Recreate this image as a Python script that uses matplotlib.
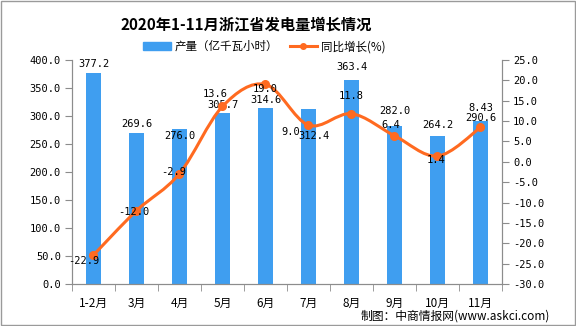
import numpy as np
import matplotlib
matplotlib.use("Agg")
import matplotlib.pyplot as plt
from matplotlib.path import Path
from matplotlib.patches import PathPatch, Rectangle
from matplotlib.lines import Line2D

plt.rcParams['font.family'] = ['Noto Sans CJK SC', 'DejaVu Sans']
NUM_FONT = ['DejaVu Sans Mono', 'Noto Sans CJK SC']

# ── Data ──────────────────────────────────────────────────────────────────────
months = ["1-2月", "3月", "4月", "5月", "6月", "7月", "8月", "9月", "10月", "11月"]
output = [377.2, 269.6, 276.0, 305.7, 314.6, 312.4, 363.4, 282.0, 264.2, 290.6]
growth = [-22.9, -12.0, -2.9, 13.6, 19.0, 9.0, 11.8, 6.4, 1.4, 8.43]
growth_text = ["-22.9", "-12.0", "-2.9", "13.6", "19.0", "9.0", "11.8", "6.4", "1.4", "8.43"]

BAR_C = "#3F9EF0"
LINE_C = "#FF6A20"
AX_C = "#8C8C8C"

# label offsets in points (dx, dy)
bar_off = [(0, 3), (0, 3), (0, -8), (0, 2), (0, 2), (4, -23), (0, 6), (0, 7), (0, 4), (0, -1)]
line_off = [(-7, -4), (-2, -1), (-4, 1), (-5, 9), (0, -3), (-13, -5), (0, 13), (-3, 8), (-1, -3), (0, 14)]

fig = plt.figure(figsize=(5.76, 3.26), dpi=100)
fig.patch.set_facecolor("white")
fig.add_artist(Rectangle((0.002, 0.003), 0.996, 0.994, transform=fig.transFigure,
                         fill=False, edgecolor="#9A9A9A", linewidth=1.0))

ax = fig.add_axes([0.125, 0.129, 0.7465, 0.687])
ax2 = ax.twinx()
x = np.arange(len(months))

ax.bar(x, output, width=0.37, color=BAR_C, zorder=2)
ax.set_xlim(-0.5, len(months) - 0.5)
ax.set_ylim(0, 400)
ax.set_yticks(np.arange(0, 401, 50))
ax.set_yticklabels([f"{v:.1f}" for v in np.arange(0, 401, 50)], family=NUM_FONT)
ax2.set_ylim(-30, 25)
ax2.set_yticks(np.arange(-30, 26, 5))
ax2.set_yticklabels([f"{v:.1f}" for v in np.arange(-30, 26, 5)], family=NUM_FONT)

ax.set_xticks(x)
ax.set_xticklabels(months)
ax.set_xticks(np.arange(-0.5, len(months), 1), minor=True)
ax.tick_params(axis="x", which="major", length=0, pad=9, labelsize=8.5)
ax.tick_params(axis="x", which="minor", length=5, color=AX_C, direction="out")
ax.tick_params(axis="y", length=5, color=AX_C, labelsize=7.5, pad=3)
ax2.tick_params(axis="y", length=5, color=AX_C, labelsize=7.5, pad=3)

for a in (ax, ax2):
    a.spines["top"].set_visible(False)
    for s in ("left", "right", "bottom"):
        a.spines[s].set_color(AX_C)
ax.set_zorder(1)
ax2.set_zorder(2)
ax2.patch.set_visible(False)

# smoothed line (Catmull-Rom drawn as cubic Bezier segments)
pts = np.column_stack([x, growth]).astype(float)
ext = np.vstack([pts[0], pts, pts[-1]])
verts = [tuple(pts[0])]
codes = [Path.MOVETO]
for i in range(1, len(ext) - 2):
    p0, p1, p2, p3 = ext[i - 1], ext[i], ext[i + 1], ext[i + 2]
    c1 = p1 + (p2 - p0) / 6
    c2 = p2 - (p3 - p1) / 6
    verts += [tuple(c1), tuple(c2), tuple(p2)]
    codes += [Path.CURVE4] * 3
ax2.add_patch(PathPatch(Path(verts, codes), facecolor="none", edgecolor=LINE_C,
                        linewidth=2.2, zorder=3))
ax2.plot(x, growth, linestyle="none", marker="o", markersize=5.5, color=LINE_C, zorder=4)

for i, v in enumerate(output):
    ax.annotate(f"{v:.1f}", (x[i], v), xytext=bar_off[i], textcoords="offset points",
                ha="center", va="bottom", fontsize=7.5, family=NUM_FONT, zorder=5)
for i, v in enumerate(growth):
    ax2.annotate(growth_text[i], (x[i], v), xytext=line_off[i], textcoords="offset points",
                 ha="center", va="center", fontsize=7.5, family=NUM_FONT, zorder=5)

fig.text(0.427, 0.925, "2020年1-11月浙江省发电量增长情况", ha="center", va="center",
         fontsize=11, fontweight="bold")

handles = [Rectangle((0, 0), 1, 1, color=BAR_C),
           Line2D([], [], color=LINE_C, linewidth=2.2, marker="o", markersize=4)]
fig.legend(handles, ["产量（亿千瓦小时）", "同比增长(%)"], loc="center",
           bbox_to_anchor=(0.459, 0.857), ncol=2, frameon=False, fontsize=8.3,
           handlelength=2.4, handleheight=0.7, columnspacing=1.0, handletextpad=0.3)

fig.text(0.955, 0.03, "制图：中商情报网(www.askci.com)", ha="right", va="center", fontsize=8.5)

fig.savefig("out.png", dpi=100)
